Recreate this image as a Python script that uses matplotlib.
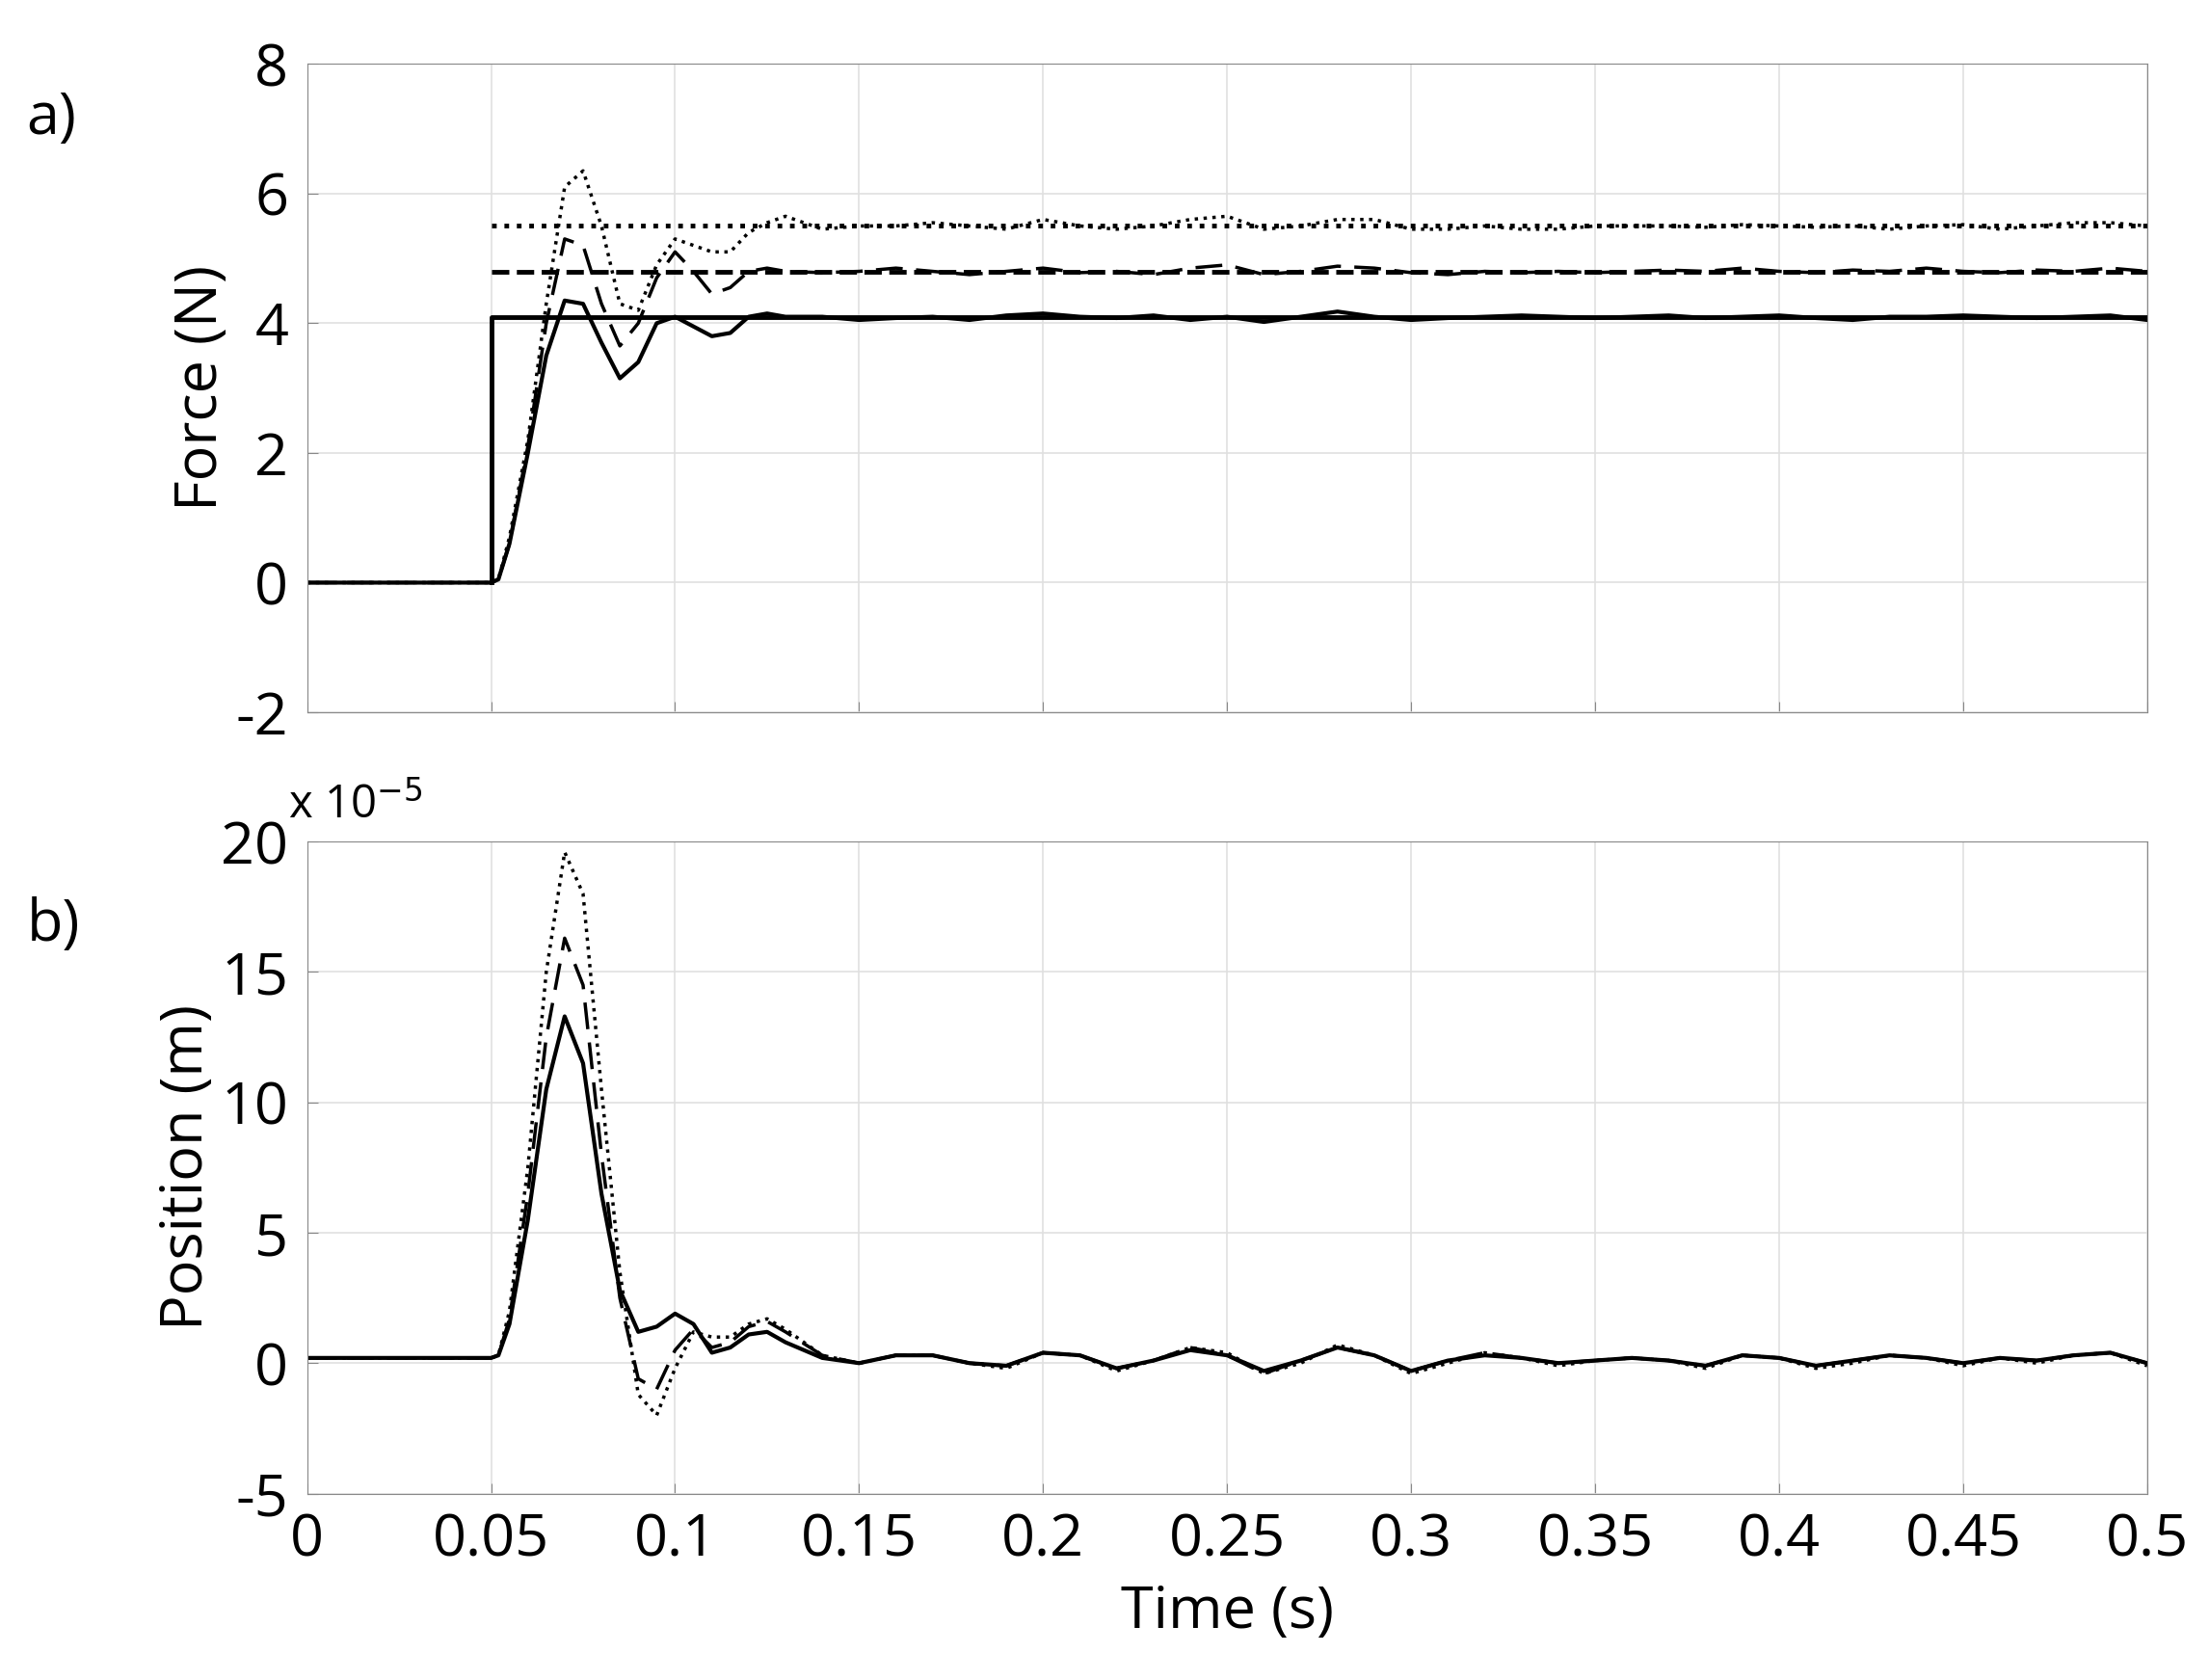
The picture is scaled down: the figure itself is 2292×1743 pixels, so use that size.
import numpy as np
import matplotlib.pyplot as plt

plt.rcParams['font.family'] = ['Open Sans', 'DejaVu Sans']
plt.rcParams['axes.unicode_minus'] = False

# time knots (s)
t_head = [0, 0.05, 0.052, 0.055, 0.06, 0.065, 0.07, 0.075, 0.08, 0.085, 0.09, 0.095,
          0.1, 0.105, 0.11, 0.115, 0.12, 0.125, 0.13, 0.14, 0.15]
t_tail = [0.16, 0.17, 0.18, 0.19, 0.2, 0.21, 0.22, 0.23, 0.24, 0.25, 0.26, 0.27, 0.28,
          0.29, 0.3, 0.31, 0.32, 0.33, 0.34, 0.35, 0.36, 0.37, 0.38, 0.39, 0.4, 0.41,
          0.42, 0.43, 0.44, 0.45, 0.46, 0.47, 0.48, 0.49, 0.5]
t = t_head + t_tail

# force references (N)
ref_solid = 4.1
ref_dash = 4.8
ref_dot = 5.5

# measured forces (N)
f_solid = [0, 0, 0.05, 0.6, 2.0, 3.5, 4.35, 4.3, 3.7, 3.15, 3.4, 4.0, 4.1, 3.95, 3.8, 3.85,
           4.1, 4.15, 4.1, 4.1, 4.05,
           4.08, 4.1, 4.05, 4.12, 4.15, 4.1, 4.08, 4.12, 4.05, 4.1, 4.02, 4.1, 4.18, 4.1,
           4.05, 4.08, 4.1, 4.12, 4.1, 4.08, 4.1, 4.12, 4.08, 4.1, 4.12, 4.08, 4.05, 4.1,
           4.1, 4.12, 4.1, 4.08, 4.1, 4.12, 4.05]
f_dash = [0, 0, 0.05, 0.6, 2.1, 4.0, 5.3, 5.2, 4.3, 3.65, 4.0, 4.7, 5.1, 4.8, 4.45, 4.55,
          4.8, 4.85, 4.8, 4.78, 4.8,
          4.85, 4.8, 4.75, 4.8, 4.85, 4.78, 4.8, 4.75, 4.85, 4.9, 4.75, 4.8, 4.88, 4.85,
          4.78, 4.75, 4.8, 4.78, 4.8, 4.78, 4.8, 4.82, 4.8, 4.85, 4.8, 4.78, 4.82, 4.8,
          4.85, 4.8, 4.78, 4.82, 4.8, 4.85, 4.8]
f_dot = [0, 0, 0.05, 0.7, 2.2, 4.3, 6.1, 6.35, 5.5, 4.3, 4.2, 4.9, 5.3, 5.2, 5.1, 5.1,
         5.4, 5.55, 5.65, 5.45, 5.5,
         5.5, 5.55, 5.5, 5.45, 5.6, 5.5, 5.45, 5.5, 5.6, 5.65, 5.45, 5.5, 5.6, 5.6,
         5.45, 5.45, 5.5, 5.45, 5.45, 5.5, 5.5, 5.5, 5.48, 5.52, 5.5, 5.48, 5.5, 5.45,
         5.5, 5.52, 5.45, 5.5, 5.55, 5.55, 5.5]

# positions (x 1e-5 m)
p_solid = [0.2, 0.2, 0.3, 1.5, 5.5, 10.5, 13.3, 11.5, 6.5, 2.8, 1.2, 1.4, 1.9, 1.5, 0.4, 0.6,
           1.1, 1.2, 0.8, 0.2, 0.0,
           0.3, 0.3, 0.0, -0.1, 0.4, 0.3, -0.2, 0.1, 0.5, 0.3, -0.3, 0.1, 0.6, 0.3,
           -0.3, 0.1, 0.3, 0.2, 0.0, 0.1, 0.2, 0.1, -0.1, 0.3, 0.2, -0.1, 0.1, 0.3,
           0.2, 0.0, 0.2, 0.1, 0.3, 0.4, 0.0]
p_dash = [0.2, 0.2, 0.3, 1.7, 6.5, 12.5, 16.3, 14.5, 8.0, 2.5, -0.6, -1.0, 0.5, 1.3, 0.6, 0.8,
          1.4, 1.6, 1.2, 0.3, 0.0,
          0.3, 0.3, 0.0, -0.1, 0.4, 0.3, -0.2, 0.1, 0.6, 0.3, -0.4, 0.1, 0.6, 0.3,
          -0.3, 0.1, 0.4, 0.2, 0.0, 0.1, 0.2, 0.1, -0.1, 0.3, 0.2, -0.1, 0.1, 0.3,
          0.2, 0.0, 0.2, 0.1, 0.3, 0.4, 0.0]
p_dot = [0.2, 0.2, 0.3, 2.0, 7.5, 15.0, 19.6, 18.0, 10.5, 3.5, -1.2, -2.0, -0.2, 1.2, 1.0, 1.0,
         1.5, 1.7, 1.3, 0.3, 0.0,
         0.3, 0.3, 0.0, -0.2, 0.4, 0.3, -0.3, 0.1, 0.6, 0.4, -0.4, 0.0, 0.7, 0.3,
         -0.4, 0.0, 0.4, 0.2, -0.1, 0.1, 0.2, 0.1, -0.2, 0.3, 0.2, -0.2, 0.0, 0.3,
         0.2, -0.1, 0.2, 0.0, 0.3, 0.4, -0.1]

fig = plt.figure(figsize=(22.92, 17.43), dpi=100)
ax1 = fig.add_axes([0.139, 0.576, 0.833, 0.386])
ax2 = fig.add_axes([0.139, 0.111, 0.833, 0.388])

fs = 44
ax1.plot(t, f_solid, color='k', lw=3)
ax1.plot(t, f_dash, color='k', lw=2.5, ls=(0, (8, 4)))
ax1.plot(t, f_dot, color='k', lw=2.5, ls=':')
ax1.plot([0.05, 0.05, 0.5], [0, ref_solid, ref_solid], color='k', lw=3.5)
ax1.plot([0.05, 0.5], [ref_dash, ref_dash], color='k', lw=3.5, ls='--')
ax1.plot([0.05, 0.5], [ref_dot, ref_dot], color='k', lw=3.5, ls=':')
ax1.set_xlim(0, 0.5)
ax1.set_ylim(-2, 8)
ax1.set_yticks([-2, 0, 2, 4, 6, 8])
ax1.set_xticks(np.arange(0, 0.51, 0.05))
ax1.set_xticklabels([])
ax1.set_ylabel('Force (N)', fontsize=fs)

ax2.plot(t, p_solid, color='k', lw=3)
ax2.plot(t, p_dash, color='k', lw=2.5, ls=(0, (8, 4)))
ax2.plot(t, p_dot, color='k', lw=2.5, ls=':')
ax2.set_xlim(0, 0.5)
ax2.set_ylim(-5, 20)
ax2.set_yticks([-5, 0, 5, 10, 15, 20])
ax2.set_xticks(np.arange(0, 0.51, 0.05))
ax2.set_xticklabels(['0', '0.05', '0.1', '0.15', '0.2', '0.25', '0.3', '0.35', '0.4', '0.45', '0.5'])
ax2.set_ylabel('Position (m)', fontsize=fs)
ax2.set_xlabel('Time (s)', fontsize=fs, labelpad=10)
ax2.text(-0.01, 1.02, 'x 10$^{-5}$', transform=ax2.transAxes, fontsize=34, ha='left', va='bottom')

for ax in (ax1, ax2):
    ax.grid(True, color='#e0e0e0', lw=1.2)
    ax.tick_params(labelsize=fs, direction='in', length=8, color='#888888', pad=14)
    for s in ax.spines.values():
        s.set_color('#888888')

fig.text(0.012, 0.92, 'a)', fontsize=fs)
fig.text(0.012, 0.44, 'b)', fontsize=fs)
fig.savefig('out.png', dpi=100)
